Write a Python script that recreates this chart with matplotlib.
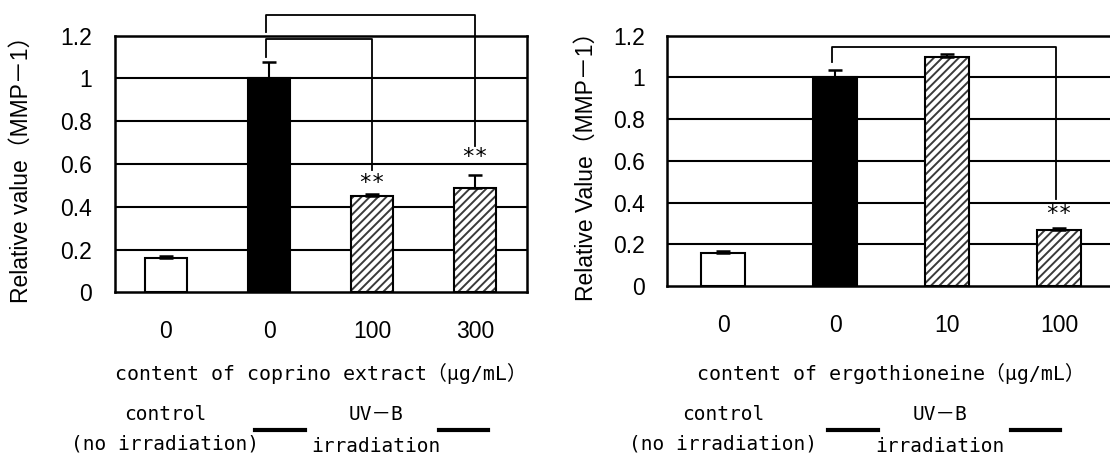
import numpy as np
import matplotlib
matplotlib.use("Agg")
import matplotlib.pyplot as plt
from matplotlib.lines import Line2D

# MMP-1 expression after UV-B irradiation
coprino_doses = ["0", "0", "100", "300"]
coprino_values = [0.16, 1.00, 0.45, 0.49]
coprino_errors = [0.01, 0.075, 0.01, 0.06]

ergo_doses = ["0", "0", "10", "100"]
ergo_values = [0.16, 1.00, 1.10, 0.27]
ergo_errors = [0.01, 0.035, 0.01, 0.007]

yticks = [0, 0.2, 0.4, 0.6, 0.8, 1.0, 1.2]
ytick_labels = ["0", "0.2", "0.4", "0.6", "0.8", "1", "1.2"]

W, H = 1110, 457
plt.rcParams["hatch.linewidth"] = 1.4
fig = plt.figure(figsize=(W / 100, H / 100), dpi=100)

num_font = ["Liberation Sans", "Noto Sans CJK JP"]
mono_font = ["DejaVu Sans Mono", "Noto Sans CJK JP"]


def px(x, y):
    return x / W, 1 - y / H


def draw_panel(ax, doses, values, errors, ylabel, xlabel):
    x = np.arange(len(values))
    ax.set_xlim(-0.5, len(values) - 0.5)
    ax.set_ylim(0, 1.2)
    for y in yticks[1:-1]:
        ax.axhline(y, color="black", lw=1.5, zorder=1)

    # white control, black UV-B, hatched treatments
    ax.bar(x[0], values[0], 0.4, color="white", edgecolor="black", lw=1.5, zorder=2)
    ax.bar(x[1], values[1], 0.4, color="black", edgecolor="black", lw=1.5, zorder=2)
    ax.bar(x[2:], values[2:], 0.4, color="white", edgecolor="#3a3a3a", lw=0,
           hatch="////", zorder=2)
    ax.bar(x[2:], values[2:], 0.4, color="none", edgecolor="black", lw=1.5, zorder=3)

    ax.errorbar(x, values, yerr=[np.zeros(len(errors)), errors], fmt="none",
                ecolor="black", elinewidth=1.5, capsize=5, capthick=1.8, zorder=4)

    ax.set_yticks(yticks)
    ax.set_yticklabels(ytick_labels, family=num_font, fontsize=16.5)
    ax.set_xticks(x)
    ax.set_xticklabels(doses, family=num_font, fontsize=16.5)
    ax.tick_params(length=0)
    ax.tick_params(axis="y", pad=16)
    ax.tick_params(axis="x", pad=20)
    for s in ax.spines.values():
        s.set_linewidth(1.8)

    ax.set_ylabel(ylabel, family=num_font, fontsize=16.5)
    ax.set_xlabel(xlabel, family=mono_font, fontsize=14.3)
    return x


def bracket(ax, x0, x1, y_left, y_top, y_right):
    ax.plot([x0, x0, x1, x1], [y_left, y_top, y_top, y_right], color="black",
            lw=1.3, clip_on=False, zorder=5)


def stars(ax, xc, y):
    ax.text(xc, y, "**", ha="center", va="center", fontsize=16,
            family=mono_font, clip_on=False)


# left panel: coprino extract
ax1 = fig.add_axes([114.5 / W, 1 - 292.3 / H, 412 / W, 256.6 / H])
x1 = draw_panel(ax1, coprino_doses, coprino_values, coprino_errors,
                "Relative value（MMP－1）", "content of coprino extract（μg/mL）")
bracket(ax1, 0.97, 2, 1.10, 1.183, 0.572)
bracket(ax1, 0.97, 3, 1.216, 1.297, 0.686)
stars(ax1, 2, 0.513)
stars(ax1, 3, 0.634)

# right panel: ergothioneine
ax2 = fig.add_axes([667 / W, 1 - 286 / H, 448 / W, 250.3 / H])
x2 = draw_panel(ax2, ergo_doses, ergo_values, ergo_errors,
                "Relative Value（MMP－1）", "content of ergothioneine（μg/mL）")
bracket(ax2, 0.97, 2.97, 1.075, 1.146, 0.415)
stars(ax2, 3, 0.343)

for ax, ylx in ((ax1, 21), (ax2, 586)):
    ax.yaxis.set_label_coords(
        ax.transAxes.inverted().transform(fig.transFigure.transform(px(ylx, 0)))[0], 0.5)
    ax.yaxis.label.set_va("center")

for ax, top, bottom in ((ax1, 35.7, 292.3), (ax2, 35.7, 286)):
    ax.xaxis.set_label_coords(0.5, (bottom - 373) / (bottom - top))
    ax.xaxis.label.set_va("center")

# group captions under each panel
groups = [
    (165, 376, (255, 305), (439, 488)),
    (723, 940, (828, 878), (1011, 1060)),
]
for cx, ux, seg1, seg2 in groups:
    fig.text(*px(cx, 414), "control", ha="center", va="center",
             family=mono_font, fontsize=14)
    fig.text(*px(cx, 444), "(no irradiation)", ha="center", va="center",
             family=mono_font, fontsize=14)
    fig.text(*px(ux, 415), "UV－B", ha="center", va="center",
             family=mono_font, fontsize=14)
    fig.text(*px(ux, 446), "irradiation", ha="center", va="center",
             family=mono_font, fontsize=14)
    for a, b in (seg1, seg2):
        fig.add_artist(Line2D([a / W, b / W], [1 - 430 / H] * 2, color="black",
                              lw=3, transform=fig.transFigure))

fig.savefig("out.png", dpi=100)
